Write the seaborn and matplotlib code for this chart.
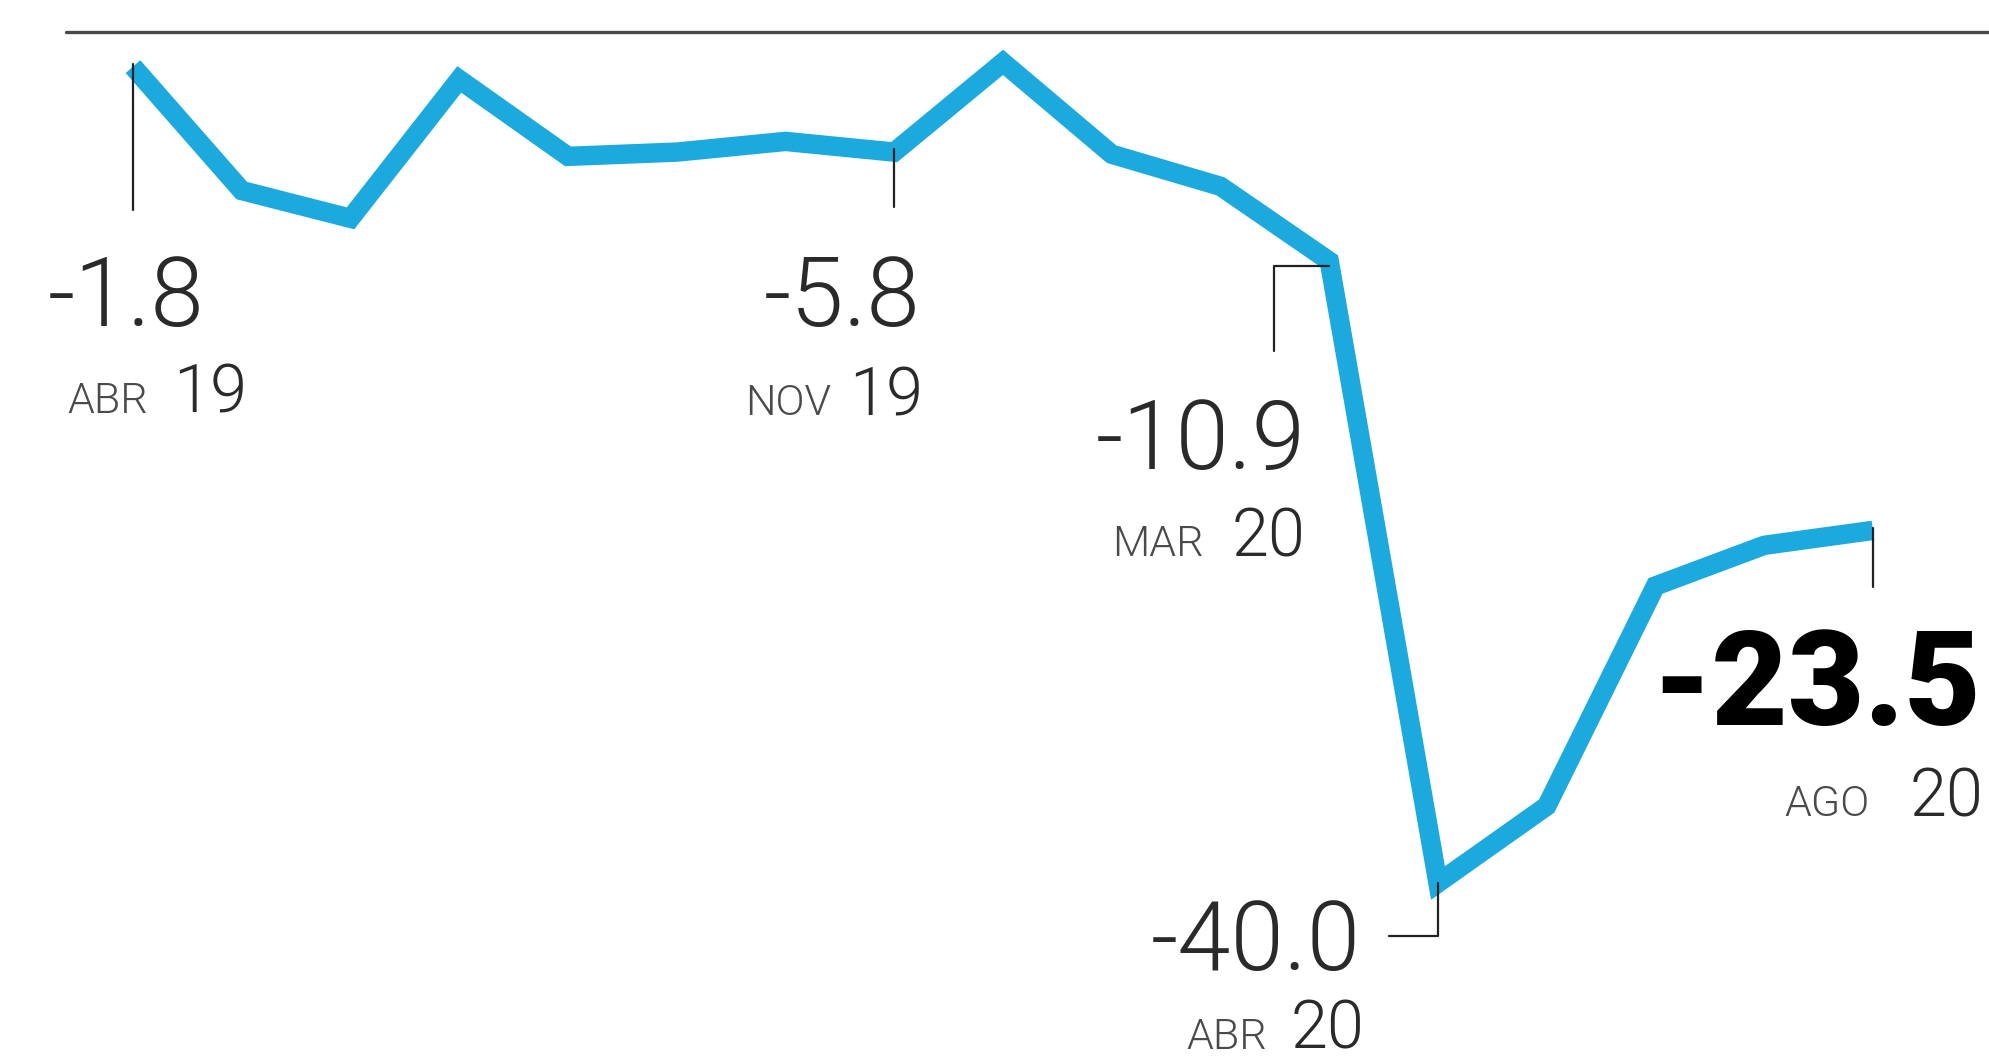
import numpy as np
import pandas as pd
import matplotlib
matplotlib.use("Agg")
import matplotlib.pyplot as plt
from matplotlib.lines import Line2D
from matplotlib.transforms import IdentityTransform
import seaborn as sns

# ---- data ----
months = ["ABR 19", "MAY 19", "JUN 19", "JUL 19", "AGO 19", "SEP 19", "OCT 19",
          "NOV 19", "DIC 19", "ENE 20", "FEB 20", "MAR 20", "ABR 20", "MAY 20",
          "JUN 20", "JUL 20", "AGO 20"]
values = [-1.8, -7.6, -8.9, -2.4, -6.0, -5.8, -5.3, -5.8, -1.6, -5.9, -7.4,
          -10.9, -40.0, -36.4, -26.1, -24.2, -23.5]
labeled_idx = [0, 7, 11, 12, 16]
label_value_text = ["-1.8", "-5.8", "-10.9", "-40.0", "-23.5"]
label_month_text = ["ABR", "NOV", "MAR", "ABR", "AGO"]
label_year_text = ["19", "19", "20", "20", "20"]

df = pd.DataFrame({"idx": np.arange(len(months)), "month": months, "value": values})

sns.set_theme(style="white")
plt.rcParams["font.family"] = ["Roboto", "DejaVu Sans"]

W, H = 1990, 1064
fig = plt.figure(figsize=(W / 100, H / 100), dpi=100)
fig.patch.set_facecolor("white")
ax = fig.add_axes([0, 0, 1, 1])
ax.axis("off")

BLUE = "#1CA9DE"
sns.lineplot(data=df, x="idx", y="value", ax=ax, color=BLUE, linewidth=14,
             solid_joinstyle="miter", solid_capstyle="butt", zorder=2)

ax.set_xlim(-1.223, 17.076)
ax.set_ylim(-48.47, 1.317)

# top rule
fig.add_artist(Line2D([66 / W, 1.0], [1 - 32 / H, 1 - 32 / H], color="#4a4a4a", lw=2.4))

fig.canvas.draw()
LEAD = "#222222"

# leader line offsets (pixels, y up) per labeled point
leaders = {
    0: [(0, 3), (0, -143)],
    7: [(0, 3), (0, -55)],
    11: [(0, -5), (-55, -5), (-55, -90)],
    12: [(0, 0), (0, -53), (-49, -53)],
    16: [(0, 2), (0, -57)],
}

# text placements: (value dx, dy, ha), (month dx, year dx, dy, ha)
placements = {
    0: ((-85, -259, "left"), (-66, 40, -346, "left")),
    7: ((26, -174, "right"), (-63, 29, -263, "right")),
    11: ((-24, -208, "right"), (-125, -24, -295, "right")),
    12: ((-77, -87, "right"), (-171, -73, -166, "right")),
    16: ((108, -195, "right"), (-3, 111, -286, "right")),
}

NUM_COLOR = "#2a2a2a"
MON_COLOR = "#4a4a4a"

for k, i in enumerate(labeled_idx):
    px, py = ax.transData.transform((df["idx"][i], df["value"][i]))
    pts = leaders[i]
    fig.add_artist(Line2D([px + dx for dx, dy in pts], [py + dy for dx, dy in pts],
                          color=LEAD, lw=1.6, transform=IdentityTransform(), zorder=5))
    (vdx, vdy, vha), (mdx, ydx, mdy, mha) = placements[i]
    bold = (i == labeled_idx[-1])
    ax.annotate(label_value_text[k], xy=(df["idx"][i], df["value"][i]),
                xytext=(vdx, vdy), textcoords="offset pixels",
                ha=vha, va="baseline",
                fontsize=95 if bold else 69,
                fontweight=900 if bold else 300,
                color="#000000" if bold else NUM_COLOR)
    ax.annotate(label_month_text[k], xy=(df["idx"][i], df["value"][i]),
                xytext=(mdx, mdy), textcoords="offset pixels",
                ha=mha, va="baseline", fontsize=31, fontweight=300, color=MON_COLOR)
    ax.annotate(label_year_text[k], xy=(df["idx"][i], df["value"][i]),
                xytext=(ydx, mdy), textcoords="offset pixels",
                ha=mha, va="baseline", fontsize=48, fontweight=300, color=NUM_COLOR)

fig.savefig("out.png", dpi=100, facecolor="white")
